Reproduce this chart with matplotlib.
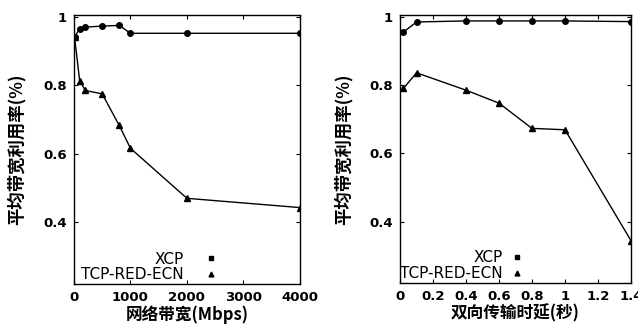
import matplotlib.pyplot as plt
from matplotlib.lines import Line2D

plt.rcParams['font.family'] = ['Noto Sans CJK SC', 'DejaVu Sans']

# left: utilisation vs link bandwidth
bw = [10, 100, 200, 500, 800, 1000, 2000, 4000]
xcp_bw = [0.942, 0.965, 0.970, 0.973, 0.975, 0.952, 0.952, 0.952]
tcp_bw = [0.940, 0.814, 0.785, 0.775, 0.683, 0.616, 0.470, 0.443]

# right: utilisation vs round-trip delay
rtt = [0.02, 0.1, 0.4, 0.6, 0.8, 1.0, 1.4]
xcp_rtt = [0.955, 0.985, 0.988, 0.988, 0.988, 0.988, 0.986]
tcp_rtt = [0.790, 0.836, 0.785, 0.747, 0.673, 0.669, 0.344]

bw_ticks = [0, 1000, 2000, 3000, 4000]
rtt_ticks = [0, 0.2, 0.4, 0.6, 0.8, 1.0, 1.2, 1.4]
rtt_labels = ['0', '0.2', '0.4', '0.6', '0.8', '1', '1.2', '1.4']
y_ticks = [0.4, 0.6, 0.8, 1.0]
y_labels = ['0.4', '0.6', '0.8', '1']

ylab = '平均带宽利用率(%)'

fig = plt.figure(figsize=(6.38, 3.29), dpi=100)
ax1 = fig.add_axes([0.116, 0.137, 0.354, 0.817])
ax2 = fig.add_axes([0.627, 0.140, 0.362, 0.814])


def draw(ax, x, xcp, tcp, xticks, xlabels, xlim, xlabel, pad, anchor, ylpad):
    ax.plot(x, xcp, color='black', lw=1.0, marker='o', ms=4)
    ax.plot(x, tcp, color='black', lw=1.0, marker='^', ms=4)
    ax.set_xlim(*xlim)
    ax.set_ylim(0.22, 1.005)
    ax.set_xticks(xticks)
    ax.set_xticklabels(xlabels, fontweight='bold', fontsize=9.5, family='DejaVu Sans')
    ax.set_yticks(y_ticks)
    ax.set_yticklabels(y_labels, fontweight='bold', fontsize=9.5, family='DejaVu Sans')
    ax.tick_params(direction='in', length=3, top=True, right=True, pad=5)
    for s in ax.spines.values():
        s.set_linewidth(1.0)
    ax.set_xlabel(xlabel, fontsize=12, fontweight='bold', labelpad=1)
    ax.set_ylabel(ylab, fontsize=12.5, fontweight='bold', labelpad=ylpad)
    handles = [Line2D([], [], color='black', marker='s', ms=3.5, ls='none'),
               Line2D([], [], color='black', marker='^', ms=3.5, ls='none')]
    ax.legend(handles, ['XCP', 'TCP-RED-ECN'], markerfirst=False, frameon=False,
              loc='lower left', bbox_to_anchor=anchor,
              handlelength=1.0, handletextpad=pad, labelspacing=0.05,
              prop={'family': 'DejaVu Sans', 'size': 11})


draw(ax1, bw, xcp_bw, tcp_bw, bw_ticks, [str(t) for t in bw_ticks], (0, 4000),
     '网络带宽(Mbps)', 1.27, (-0.03, -0.045), 13)
draw(ax2, rtt, xcp_rtt, tcp_rtt, rtt_ticks, rtt_labels, (0, 1.4),
     '双向传输时延(秒)', 0.42, (-0.06, -0.045), 12)

fig.savefig('out.png', dpi=100)
